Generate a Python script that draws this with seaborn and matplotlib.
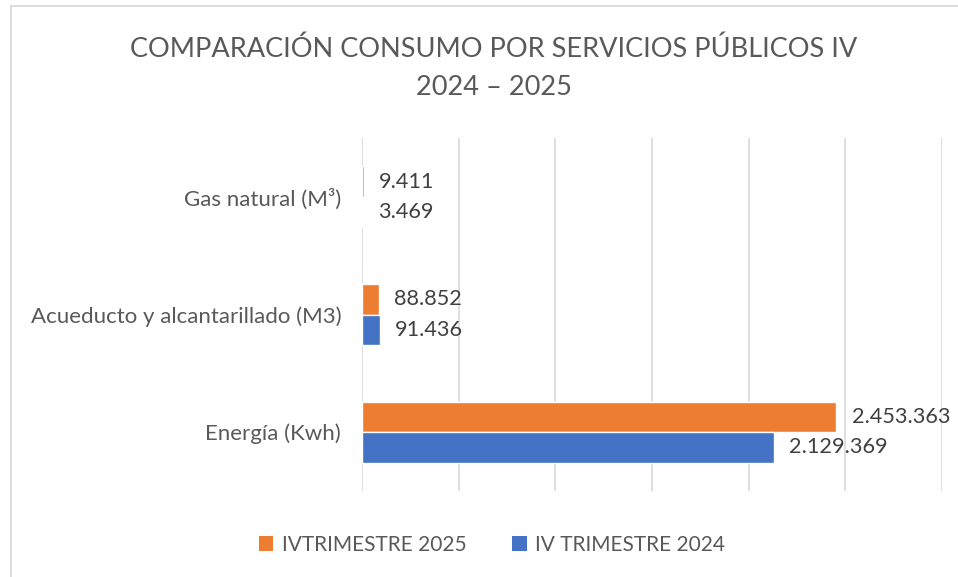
import matplotlib
matplotlib.use("Agg")
import matplotlib.pyplot as plt
import seaborn as sns
import pandas as pd
from matplotlib.lines import Line2D
from matplotlib.patches import Patch

categories = ["Gas natural (M³)", "Acueducto y alcantarillado (M3)", "Energía (Kwh)"]
series_names = ["IVTRIMESTRE 2025", "IV TRIMESTRE 2024"]
values_2025 = [9411, 88852, 2453363]
values_2024 = [3469, 91436, 2129369]
colors = ["#ED7D31", "#4472C4"]
title = "COMPARACIÓN CONSUMO POR SERVICIOS PÚBLICOS IV\n2024 – 2025"

df = pd.DataFrame({
    "cat": categories * 2,
    "serie": [series_names[0]] * 3 + [series_names[1]] * 3,
    "val": values_2025 + values_2024,
})

sns.set_theme(style="white")
plt.rcParams["font.family"] = ["Lato", "DejaVu Sans"]

fig = plt.figure(figsize=(9.58, 5.77), dpi=100)
ax = fig.add_axes([362 / 958, 1 - 491 / 577, 580 / 958, 353 / 577])

sns.barplot(data=df, y="cat", x="val", hue="serie", order=categories,
            hue_order=series_names, palette=colors, orient="h",
            width=0.52, ax=ax, legend=False, saturation=1)

for cont in ax.containers:
    labels = [f"{int(v):,}".replace(",", ".") for v in cont.datavalues]
    ax.bar_label(cont, labels=labels, padding=11, fontsize=15.6, color="#404040")

ax.set_xlim(0, 3000000)
ax.set_ylim(2.5, -0.5)
ax.set_xticks([0, 500000, 1000000, 1500000, 2000000, 2500000, 3000000])
ax.set_xticklabels([])
ax.tick_params(axis="x", length=0)
ax.tick_params(axis="y", length=0, pad=15, labelsize=16, labelcolor="#595959")
ax.grid(axis="x", color="#D9D9D9", linewidth=1.2)
ax.set_axisbelow(True)
for s in ax.spines.values():
    s.set_visible(False)
ax.set_xlabel("")
ax.set_ylabel("")

fig.text(494 / 958, 1 - 68 / 577, title, ha="center", va="center",
         fontsize=19.5, color="#595959", linespacing=1.65)

handles = [Patch(facecolor=c, edgecolor="none") for c in colors]
fig.legend(handles, series_names, loc="center", bbox_to_anchor=(492 / 958, 1 - 545 / 577),
           ncol=2, frameon=False, fontsize=15, labelcolor="#595959",
           handlelength=0.7, handleheight=0.7, handletextpad=0.4, columnspacing=2.2)

fig.add_artist(Line2D([11 / 958, 11 / 958], [0, 1 - 6 / 577], transform=fig.transFigure,
                      color="#D9D9D9", linewidth=1.3))
fig.add_artist(Line2D([11 / 958, 1], [1 - 6 / 577, 1 - 6 / 577], transform=fig.transFigure,
                      color="#D9D9D9", linewidth=1.3))

fig.savefig("out.png", dpi=100)
